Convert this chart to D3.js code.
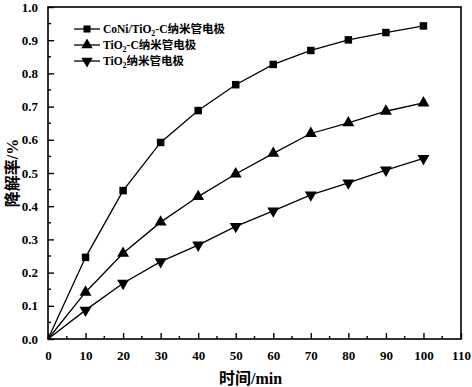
<!DOCTYPE html>
<html>
<head>
<meta charset="utf-8">
<script src="https://cdn.jsdelivr.net/npm/d3@7"></script>
<style>
  body { margin: 0; background: #fff; }
  text { font-family: "Liberation Serif", "Noto Sans CJK SC", serif; font-weight: bold; fill: #000; }
</style>
</head>
<body>
<div id="chart-area"></div>
<script>
const MARGIN = { LEFT: 48, RIGHT: 11, TOP: 7, BOTTOM: 48 }
const WIDTH = 472 - MARGIN.LEFT - MARGIN.RIGHT
const HEIGHT = 387 - MARGIN.TOP - MARGIN.BOTTOM

// DATA
const times = [0, 10, 20, 30, 40, 50, 60, 70, 80, 90, 100]
const coniTio2C = [0, 0.246, 0.447, 0.592, 0.688, 0.766, 0.827, 0.869, 0.901, 0.923, 0.943]
const tio2C = [0, 0.141, 0.258, 0.352, 0.429, 0.497, 0.559, 0.619, 0.651, 0.686, 0.711]
const tio2 = [0, 0.087, 0.168, 0.233, 0.283, 0.339, 0.386, 0.434, 0.47, 0.509, 0.544]
const seriesNames = ["CoNi/TiO₂-C纳米管电极", "TiO₂-C纳米管电极", "TiO₂纳米管电极"]
const xTicks = [0, 10, 20, 30, 40, 50, 60, 70, 80, 90, 100, 110]
const yTicks = [0, 0.1, 0.2, 0.3, 0.4, 0.5, 0.6, 0.7, 0.8, 0.9, 1.0]

const series = [
  { name: "CoNi/TiO", tail: "-C纳米管电极", values: coniTio2C, symbol: d3.symbolSquare, rot: 0 },
  { name: "TiO", tail: "-C纳米管电极", values: tio2C, symbol: d3.symbolTriangle, rot: 0 },
  { name: "TiO", tail: "纳米管电极", values: tio2, symbol: d3.symbolTriangle, rot: 180 }
]

const svg = d3.select("#chart-area").append("svg")
  .attr("width", 472)
  .attr("height", 387)

const g = svg.append("g")
  .attr("transform", `translate(${MARGIN.LEFT}, ${MARGIN.TOP})`)

// SCALES
const x = d3.scaleLinear().domain([0, 110]).range([0, WIDTH])
const y = d3.scaleLinear().domain([0, 1.0]).range([HEIGHT, 0])

// frame
g.append("rect")
  .attr("width", WIDTH)
  .attr("height", HEIGHT)
  .attr("fill", "none")
  .attr("stroke", "#000")
  .attr("stroke-width", 1.6)

// AXES
const xAxisCall = d3.axisBottom(x)
  .tickValues(xTicks)
  .tickSizeInner(-6)
  .tickSizeOuter(0)
  .tickPadding(12)
  .tickFormat(d3.format("d"))
const xAxis = g.append("g")
  .attr("transform", `translate(0, ${HEIGHT})`)
  .call(xAxisCall)

const yAxisCall = d3.axisLeft(y)
  .tickValues(yTicks)
  .tickSizeInner(-6)
  .tickSizeOuter(0)
  .tickPadding(10)
  .tickFormat(d3.format(".1f"))
const yAxis = g.append("g").call(yAxisCall)

;[xAxis, yAxis].forEach(a => {
  a.select(".domain").remove()
  a.selectAll("line").attr("stroke", "#000").attr("stroke-width", 1.4)
  a.selectAll("text").attr("font-size", "13px").attr("font-family", "Liberation Serif").attr("font-weight", "bold")
})

// minor ticks
const xMinor = d3.range(5, 110, 10)
g.selectAll(".xminor").data(xMinor).enter().append("line")
  .attr("x1", d => x(d)).attr("x2", d => x(d))
  .attr("y1", HEIGHT).attr("y2", HEIGHT - 3)
  .attr("stroke", "#000").attr("stroke-width", 1.4)
const yMinor = d3.range(0.05, 1.0, 0.1)
g.selectAll(".yminor").data(yMinor).enter().append("line")
  .attr("y1", d => y(d)).attr("y2", d => y(d))
  .attr("x1", 0).attr("x2", 3)
  .attr("stroke", "#000").attr("stroke-width", 1.4)

// LABELS
svg.append("text")
  .attr("x", MARGIN.LEFT + x(55) - 4)
  .attr("y", 384)
  .attr("font-size", "16px")
  .attr("text-anchor", "middle")
  .text("时间/min")

svg.append("text")
  .attr("transform", "translate(18, 173) rotate(-90)")
  .attr("font-size", "16px")
  .attr("text-anchor", "middle")
  .text("降解率/%")

// LINES
const line = d3.line().x((d, i) => x(times[i])).y(d => y(d))

series.forEach(s => {
  g.append("path")
    .datum(s.values)
    .attr("fill", "none")
    .attr("stroke", "#000")
    .attr("stroke-width", 1.3)
    .attr("d", line)

  g.selectAll(null).data(s.values.slice(1)).enter().append("path")
    .attr("d", d3.symbol(s.symbol, s.symbol === d3.symbolSquare ? 56 : 62))
    .attr("transform", (d, i) => `translate(${x(times[i + 1])}, ${y(d)}) rotate(${s.rot})`)
    .attr("fill", "#000")
})

// LEGEND
const legend = svg.append("g").attr("transform", "translate(74, 29)")
series.forEach((s, i) => {
  const row = legend.append("g").attr("transform", `translate(0, ${i * 16})`)
  row.append("line").attr("x1", 0).attr("x2", 26).attr("stroke", "#000").attr("stroke-width", 1.3)
  row.append("path")
    .attr("d", d3.symbol(s.symbol, s.symbol === d3.symbolSquare ? 50 : 56))
    .attr("transform", `translate(13, 0) rotate(${s.rot})`)
  const t = row.append("text").attr("x", 29).attr("y", 4).attr("font-size", "11.5px")
  t.append("tspan").text(s.name)
  t.append("tspan").attr("font-size", "8px").attr("dy", 3).text("2")
  t.append("tspan").attr("dy", -3).text(s.tail)
})
</script>
</body>
</html>
